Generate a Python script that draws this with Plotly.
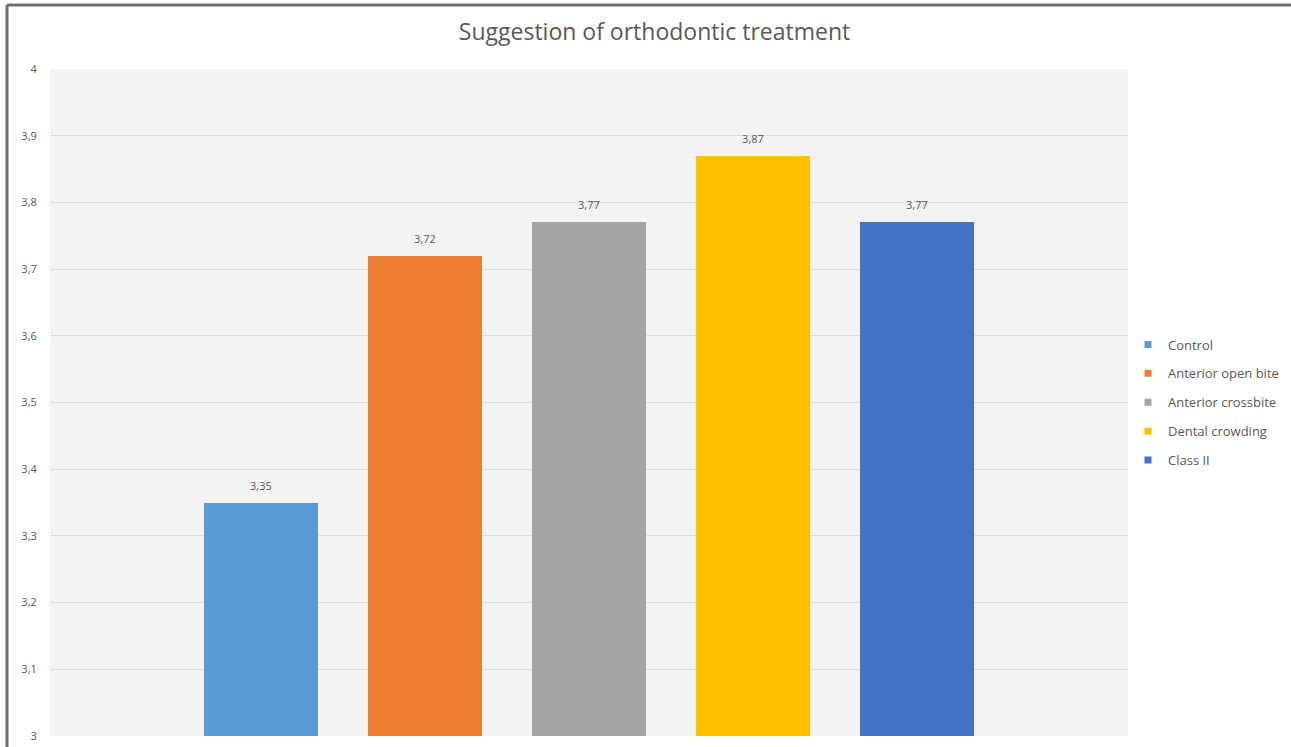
import plotly.graph_objects as go

# Mean score per malocclusion group
groups = ["Control", "Anterior open bite", "Anterior crossbite", "Dental crowding", "Class II"]
scores = [3.35, 3.72, 3.77, 3.87, 3.77]
colors = ["#5B9BD5", "#ED7D31", "#A5A5A5", "#FFC000", "#4472C4"]
y_ticks = [3.0, 3.1, 3.2, 3.3, 3.4, 3.5, 3.6, 3.7, 3.8, 3.9, 4.0]

W, H = 1291, 747
L, R, T, B = 50, 163, 69, 11

fig = go.Figure()
for i, (g, v, c) in enumerate(zip(groups, scores, colors)):
    fig.add_trace(go.Bar(
        x=[i], y=[v], width=0.695, marker=dict(color=c, line=dict(width=0)),
        showlegend=False, hoverinfo="skip",
    ))
    # value label above the bar
    fig.add_annotation(x=i, y=v, text=f"{v:.2f}".replace(".", ","), showarrow=False,
                       yanchor="bottom", yshift=8,
                       font=dict(size=11, color="#595959"))
    # small square swatch for the legend
    fig.add_trace(go.Scatter(
        x=[None], y=[None], mode="markers", name=g, legendgroup=g,
        marker=dict(symbol="square", size=7, color=c),
    ))

fig.update_layout(
    width=W, height=H,
    margin=dict(l=L, r=R, t=T, b=B, autoexpand=False),
    paper_bgcolor="white",
    plot_bgcolor="#f3f3f3",
    separators=",.",
    font=dict(family="Open Sans, Liberation Sans, sans-serif", color="#595959"),
    title=dict(text="Suggestion of orthodontic treatment", x=0.507, xanchor="center",
               y=0.957, yanchor="middle",
               font=dict(size=23, color="#595959", family="Open Sans, sans-serif")),
    bargap=0,
    legend=dict(x=1.0, xanchor="left", y=0.5, yanchor="middle",
                font=dict(size=13, color="#595959"), traceorder="grouped",
                tracegroupgap=9, itemwidth=30, bgcolor="rgba(0,0,0,0)"),
    xaxis=dict(range=[-1.287, 5.287], showticklabels=False, showgrid=False,
               zeroline=False, fixedrange=True, automargin=False),
    yaxis=dict(range=[3, 4], tickvals=y_ticks, showgrid=True, gridcolor="#dcdcdc",
               gridwidth=1, zeroline=False, tickfont=dict(size=11, color="#595959"),
               ticks="outside", ticklen=10, tickcolor="rgba(0,0,0,0)", automargin=False),
    shapes=[
        dict(type="line", xref="paper", yref="paper",
             x0=(7 - L) / (W - L - R), x1=1.2, y0=1 + (T - 5) / (H - T - B),
             y1=1 + (T - 5) / (H - T - B), line=dict(color="#6e6e6e", width=3)),
        dict(type="line", xref="paper", yref="paper",
             x0=(7 - L) / (W - L - R), x1=(7 - L) / (W - L - R),
             y0=-0.05, y1=1 + (T - 5) / (H - T - B), line=dict(color="#6e6e6e", width=3)),
    ],
)

fig.write_html("out.html")
